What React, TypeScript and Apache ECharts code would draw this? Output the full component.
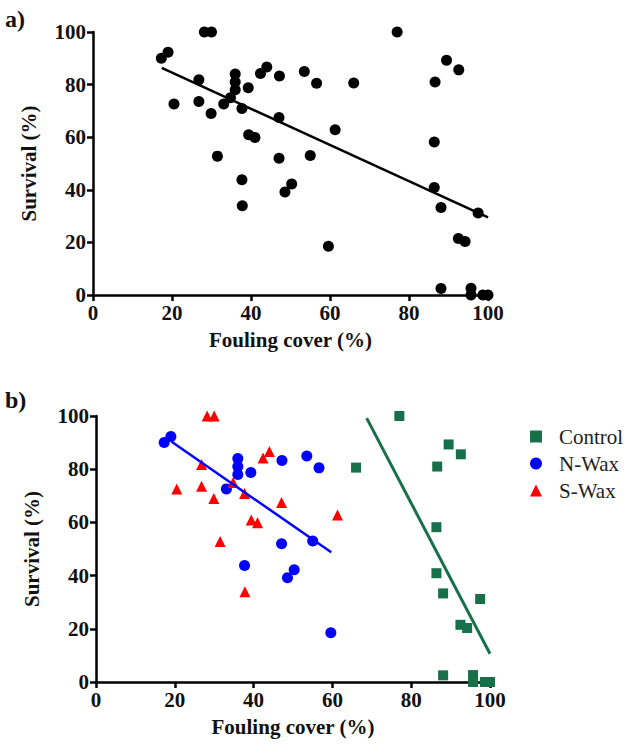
import React, { useEffect, useRef } from "react";
import * as echarts from "echarts";

const controlX = [77, 66, 89.5, 92.6, 86.6, 86.4, 86.4, 88.1, 97.5, 92.5, 94.2, 88.1, 95.7, 95.7, 98.7, 100];
const controlY = [100, 80.6, 89.3, 85.6, 81, 58.2, 40.9, 33.3, 31.2, 21.5, 20.3, 2.5, 2.6, 0, 0, 0];

const nwaxX = [17.3, 19, 36, 36, 36, 39.3, 33.1, 47.2, 53.5, 56.6, 47.1, 55, 37.7, 48.6, 50.3, 59.6];
const nwaxY = [90, 92.3, 84, 81, 78, 78.8, 72.6, 83.3, 85, 80.5, 52, 53, 43.8, 39.2, 42.2, 18.5];

const swaxX = [28.2, 30, 44, 42.4, 26.8, 20.5, 26.8, 34.8, 29.9, 37.7, 47.1, 61.3, 39.4, 41, 31.5, 37.8];
const swaxY = [100, 100, 86.7, 84.2, 81.8, 72.6, 73.6, 75, 69, 70.9, 67.5, 62.8, 60.9, 59.9, 52.8, 33.9];

const allFitX = [17.4, 100];
const allFitY = [86.4, 29.5];
const nwaxFitX = [19.2, 59.7];
const nwaxFitY = [90.3, 48.8];
const controlFitX = [68.7, 100];
const controlFitY = [99.2, 10.6];

const groupNames = ["Control", "N-Wax", "S-Wax"];
const xTicks = [0, 20, 40, 60, 80, 100];
const yTicks = [0, 20, 40, 60, 80, 100];

const GREEN = "#17704a";
const BLUE = "#0000ff";
const RED = "#ff0000";
const SERIF = "'Liberation Serif', 'Times New Roman', serif";

const pairs = (xs: number[], ys: number[]) => xs.map((x, i) => [x, ys[i]]);

export default function App() {
  const ref = useRef<HTMLDivElement>(null);
  useEffect(() => {
    if (!ref.current) return;
    const chart = echarts.init(ref.current, undefined, { renderer: "svg" });

    const axisCommon = {
      min: 0,
      max: 100,
      interval: 20,
      splitLine: { show: false },
      axisLine: { show: true, onZero: false, lineStyle: { color: "#000", width: 2.5 } },
      axisTick: { show: true, inside: false, length: 6, lineStyle: { color: "#000", width: 2.5 } },
      axisLabel: {
        color: "#111",
        fontFamily: SERIF,
        fontWeight: "bold",
        fontSize: 21,
        margin: 7,
        formatter: (v: number) => (xTicks.includes(v) ? String(v) : ""),
      },
      nameTextStyle: { color: "#111", fontFamily: SERIF, fontWeight: "bold", fontSize: 21 },
    };

    const xAxisFor = (gridIndex: number) => ({
      ...axisCommon,
      type: "value",
      gridIndex,
      name: "Fouling cover (%)",
      nameLocation: "middle",
      nameGap: 34,
    });
    const yAxisFor = (gridIndex: number) => ({
      ...axisCommon,
      type: "value",
      gridIndex,
      name: "Survival (%)",
      nameLocation: "middle",
      nameGap: 54,
      axisLabel: { ...axisCommon.axisLabel, formatter: (v: number) => (yTicks.includes(v) ? String(v) : "") },
    });

    const allX = [...controlX, ...nwaxX, ...swaxX];
    const allY = [...controlY, ...nwaxY, ...swaxY];

    chart.setOption({
      animation: false,
      grid: [
        { left: 93, top: 32, width: 395, height: 263 },
        { left: 96, top: 416, width: 394, height: 266 },
      ],
      xAxis: [xAxisFor(0), xAxisFor(1)],
      yAxis: [yAxisFor(0), yAxisFor(1)],
      legend: {
        orient: "vertical",
        left: 525,
        top: 421,
        itemWidth: 12,
        itemHeight: 12,
        itemGap: 6,
        data: [
          { name: groupNames[0], icon: "rect" },
          { name: groupNames[1], icon: "circle" },
          { name: groupNames[2], icon: "triangle" },
        ],
        textStyle: { color: "#222", fontFamily: SERIF, fontSize: 21, lineHeight: 21, padding: [0, 0, 0, 12] },
      },
      graphic: [
        { type: "text", left: 5, top: 7, style: { text: "a)", fontFamily: SERIF, fontWeight: "bold", fontSize: 24, fill: "#111" } },
        { type: "text", left: 5, top: 388, style: { text: "b)", fontFamily: SERIF, fontWeight: "bold", fontSize: 24, fill: "#111" } },
      ],
      series: [
        {
          type: "scatter",
          xAxisIndex: 0,
          yAxisIndex: 0,
          symbol: "circle",
          symbolSize: 11,
          clip: false,
          itemStyle: { color: "#000", opacity: 1 },
          data: pairs(allX, allY),
        },
        {
          type: "line",
          xAxisIndex: 0,
          yAxisIndex: 0,
          showSymbol: false,
          symbol: "none",
          lineStyle: { color: "#000", width: 2.5 },
          data: pairs(allFitX, allFitY),
        },
        {
          name: groupNames[0],
          type: "scatter",
          xAxisIndex: 1,
          yAxisIndex: 1,
          symbol: "rect",
          symbolSize: 10,
          clip: false,
          itemStyle: { color: GREEN, opacity: 1 },
          data: pairs(controlX, controlY),
        },
        {
          name: groupNames[1],
          type: "scatter",
          xAxisIndex: 1,
          yAxisIndex: 1,
          symbol: "circle",
          symbolSize: 11,
          clip: false,
          itemStyle: { color: BLUE, opacity: 1 },
          data: pairs(nwaxX, nwaxY),
        },
        {
          name: groupNames[2],
          type: "scatter",
          xAxisIndex: 1,
          yAxisIndex: 1,
          symbol: "triangle",
          symbolSize: 11,
          clip: false,
          itemStyle: { color: RED, opacity: 1 },
          data: pairs(swaxX, swaxY),
        },
        {
          type: "line",
          xAxisIndex: 1,
          yAxisIndex: 1,
          symbol: "none",
          lineStyle: { color: BLUE, width: 2.5 },
          data: pairs(nwaxFitX, nwaxFitY),
        },
        {
          type: "line",
          xAxisIndex: 1,
          yAxisIndex: 1,
          symbol: "none",
          lineStyle: { color: GREEN, width: 3 },
          data: pairs(controlFitX, controlFitY),
        },
      ],
    });
    return () => chart.dispose();
  }, []);
  return <div ref={ref} style={{ position: "fixed", left: 0, top: 0, width: 640, height: 753, background: "#fff" }} />;
}
